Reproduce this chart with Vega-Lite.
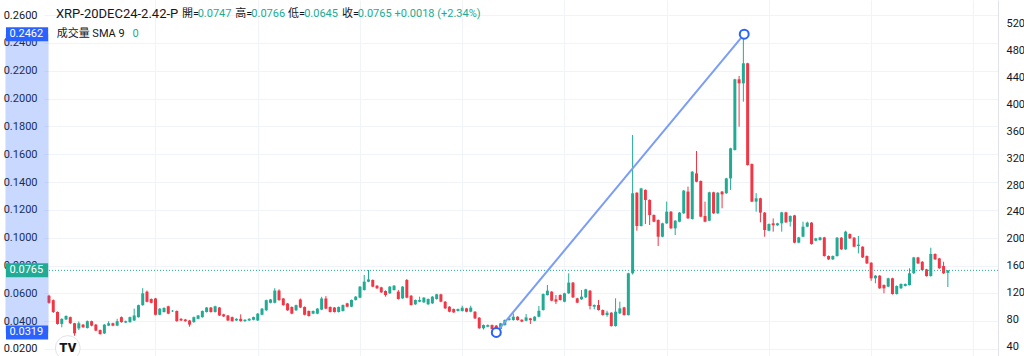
{
"$schema":"https://vega.github.io/schema/vega-lite/v6.json",
"width":954,"height":356,
"autosize":{"type":"none"},
"padding":{"left":44,"right":26,"top":0,"bottom":0},
"background":"#ffffff",
"config":{"view":{"stroke":null},"font":"Roboto, Noto Sans CJK TC, sans-serif"},
"datasets":{
"candles":[
{"i":0,"o":0.0583,"h":0.0590,"l":0.0525,"c":0.0532},
{"i":1,"o":0.0551,"h":0.0556,"l":0.0459,"c":0.0466},
{"i":2,"o":0.0466,"h":0.0470,"l":0.0375,"c":0.0380},
{"i":3,"o":0.0380,"h":0.0420,"l":0.0356,"c":0.0417},
{"i":4,"o":0.0412,"h":0.0442,"l":0.0408,"c":0.0437},
{"i":5,"o":0.0429,"h":0.0433,"l":0.0380,"c":0.0385},
{"i":6,"o":0.0385,"h":0.0388,"l":0.0295,"c":0.0312},
{"i":7,"o":0.0348,"h":0.0397,"l":0.0336,"c":0.0385},
{"i":8,"o":0.0375,"h":0.0380,"l":0.0352,"c":0.0356},
{"i":9,"o":0.0351,"h":0.0405,"l":0.0347,"c":0.0400},
{"i":10,"o":0.0400,"h":0.0404,"l":0.0363,"c":0.0368},
{"i":11,"o":0.0375,"h":0.0380,"l":0.0328,"c":0.0332},
{"i":12,"o":0.0336,"h":0.0340,"l":0.0303,"c":0.0307},
{"i":13,"o":0.0312,"h":0.0379,"l":0.0308,"c":0.0375},
{"i":14,"o":0.0368,"h":0.0400,"l":0.0364,"c":0.0385},
{"i":15,"o":0.0385,"h":0.0389,"l":0.0364,"c":0.0368},
{"i":16,"o":0.0368,"h":0.0417,"l":0.0364,"c":0.0400},
{"i":17,"o":0.0429,"h":0.0434,"l":0.0389,"c":0.0393},
{"i":18,"o":0.0390,"h":0.0404,"l":0.0386,"c":0.0400},
{"i":19,"o":0.0393,"h":0.0433,"l":0.0389,"c":0.0429},
{"i":20,"o":0.0405,"h":0.0490,"l":0.0401,"c":0.0441},
{"i":21,"o":0.0429,"h":0.0519,"l":0.0425,"c":0.0515},
{"i":22,"o":0.0515,"h":0.0637,"l":0.0511,"c":0.0600},
{"i":23,"o":0.0612,"h":0.0620,"l":0.0535,"c":0.0539},
{"i":24,"o":0.0559,"h":0.0563,"l":0.0528,"c":0.0532},
{"i":25,"o":0.0563,"h":0.0567,"l":0.0442,"c":0.0446},
{"i":26,"o":0.0446,"h":0.0494,"l":0.0442,"c":0.0490},
{"i":27,"o":0.0466,"h":0.0500,"l":0.0462,"c":0.0495},
{"i":28,"o":0.0507,"h":0.0511,"l":0.0450,"c":0.0454},
{"i":29,"o":0.0471,"h":0.0480,"l":0.0466,"c":0.0475},
{"i":30,"o":0.0473,"h":0.0477,"l":0.0396,"c":0.0400},
{"i":31,"o":0.0417,"h":0.0421,"l":0.0401,"c":0.0405},
{"i":32,"o":0.0412,"h":0.0416,"l":0.0396,"c":0.0400},
{"i":33,"o":0.0405,"h":0.0409,"l":0.0360,"c":0.0375},
{"i":34,"o":0.0393,"h":0.0433,"l":0.0389,"c":0.0429},
{"i":35,"o":0.0417,"h":0.0445,"l":0.0413,"c":0.0441},
{"i":36,"o":0.0429,"h":0.0477,"l":0.0425,"c":0.0473},
{"i":37,"o":0.0466,"h":0.0502,"l":0.0462,"c":0.0498},
{"i":38,"o":0.0498,"h":0.0502,"l":0.0462,"c":0.0466},
{"i":39,"o":0.0466,"h":0.0511,"l":0.0462,"c":0.0507},
{"i":40,"o":0.0498,"h":0.0502,"l":0.0437,"c":0.0441},
{"i":41,"o":0.0449,"h":0.0453,"l":0.0430,"c":0.0434},
{"i":42,"o":0.0441,"h":0.0445,"l":0.0401,"c":0.0405},
{"i":43,"o":0.0429,"h":0.0433,"l":0.0396,"c":0.0400},
{"i":44,"o":0.0405,"h":0.0421,"l":0.0401,"c":0.0417},
{"i":45,"o":0.0417,"h":0.0449,"l":0.0396,"c":0.0400},
{"i":46,"o":0.0400,"h":0.0414,"l":0.0396,"c":0.0410},
{"i":47,"o":0.0405,"h":0.0421,"l":0.0401,"c":0.0417},
{"i":48,"o":0.0410,"h":0.0433,"l":0.0406,"c":0.0429},
{"i":49,"o":0.0405,"h":0.0458,"l":0.0401,"c":0.0454},
{"i":50,"o":0.0446,"h":0.0494,"l":0.0442,"c":0.0490},
{"i":51,"o":0.0478,"h":0.0555,"l":0.0474,"c":0.0551},
{"i":52,"o":0.0532,"h":0.0560,"l":0.0528,"c":0.0556},
{"i":53,"o":0.0532,"h":0.0637,"l":0.0528,"c":0.0620},
{"i":54,"o":0.0620,"h":0.0629,"l":0.0547,"c":0.0551},
{"i":55,"o":0.0563,"h":0.0567,"l":0.0511,"c":0.0515},
{"i":56,"o":0.0527,"h":0.0531,"l":0.0474,"c":0.0478},
{"i":57,"o":0.0502,"h":0.0506,"l":0.0450,"c":0.0454},
{"i":58,"o":0.0478,"h":0.0519,"l":0.0474,"c":0.0515},
{"i":59,"o":0.0556,"h":0.0563,"l":0.0494,"c":0.0498},
{"i":60,"o":0.0502,"h":0.0506,"l":0.0442,"c":0.0446},
{"i":61,"o":0.0473,"h":0.0477,"l":0.0433,"c":0.0437},
{"i":62,"o":0.0454,"h":0.0477,"l":0.0450,"c":0.0473},
{"i":63,"o":0.0454,"h":0.0494,"l":0.0450,"c":0.0490},
{"i":64,"o":0.0483,"h":0.0575,"l":0.0479,"c":0.0563},
{"i":65,"o":0.0563,"h":0.0580,"l":0.0486,"c":0.0490},
{"i":66,"o":0.0502,"h":0.0506,"l":0.0462,"c":0.0466},
{"i":67,"o":0.0498,"h":0.0502,"l":0.0462,"c":0.0466},
{"i":68,"o":0.0466,"h":0.0506,"l":0.0462,"c":0.0502},
{"i":69,"o":0.0473,"h":0.0520,"l":0.0469,"c":0.0516},
{"i":70,"o":0.0528,"h":0.0532,"l":0.0500,"c":0.0504},
{"i":71,"o":0.0504,"h":0.0556,"l":0.0500,"c":0.0552},
{"i":72,"o":0.0552,"h":0.0580,"l":0.0548,"c":0.0576},
{"i":73,"o":0.0569,"h":0.0652,"l":0.0565,"c":0.0648},
{"i":74,"o":0.0624,"h":0.0732,"l":0.0620,"c":0.0684},
{"i":75,"o":0.0684,"h":0.0768,"l":0.0680,"c":0.0700},
{"i":76,"o":0.0696,"h":0.0700,"l":0.0644,"c":0.0648},
{"i":77,"o":0.0655,"h":0.0659,"l":0.0632,"c":0.0636},
{"i":78,"o":0.0643,"h":0.0647,"l":0.0603,"c":0.0607},
{"i":79,"o":0.0617,"h":0.0621,"l":0.0576,"c":0.0588},
{"i":80,"o":0.0600,"h":0.0652,"l":0.0596,"c":0.0648},
{"i":81,"o":0.0624,"h":0.0659,"l":0.0620,"c":0.0655},
{"i":82,"o":0.0612,"h":0.0624,"l":0.0555,"c":0.0559},
{"i":83,"o":0.0564,"h":0.0652,"l":0.0560,"c":0.0648},
{"i":84,"o":0.0696,"h":0.0703,"l":0.0565,"c":0.0569},
{"i":85,"o":0.0583,"h":0.0587,"l":0.0512,"c":0.0516},
{"i":86,"o":0.0521,"h":0.0556,"l":0.0517,"c":0.0552},
{"i":87,"o":0.0540,"h":0.0576,"l":0.0536,"c":0.0552},
{"i":88,"o":0.0535,"h":0.0573,"l":0.0531,"c":0.0569},
{"i":89,"o":0.0521,"h":0.0563,"l":0.0517,"c":0.0559},
{"i":90,"o":0.0528,"h":0.0580,"l":0.0524,"c":0.0576},
{"i":91,"o":0.0559,"h":0.0597,"l":0.0555,"c":0.0593},
{"i":92,"o":0.0593,"h":0.0597,"l":0.0536,"c":0.0540},
{"i":93,"o":0.0540,"h":0.0544,"l":0.0488,"c":0.0492},
{"i":94,"o":0.0504,"h":0.0508,"l":0.0464,"c":0.0468},
{"i":95,"o":0.0487,"h":0.0491,"l":0.0459,"c":0.0463},
{"i":96,"o":0.0473,"h":0.0491,"l":0.0469,"c":0.0487},
{"i":97,"o":0.0473,"h":0.0511,"l":0.0469,"c":0.0497},
{"i":98,"o":0.0492,"h":0.0496,"l":0.0464,"c":0.0468},
{"i":99,"o":0.0468,"h":0.0511,"l":0.0464,"c":0.0497},
{"i":100,"o":0.0468,"h":0.0472,"l":0.0416,"c":0.0420},
{"i":101,"o":0.0425,"h":0.0429,"l":0.0345,"c":0.0349},
{"i":102,"o":0.0349,"h":0.0376,"l":0.0340,"c":0.0372},
{"i":103,"o":0.0360,"h":0.0376,"l":0.0356,"c":0.0372},
{"i":104,"o":0.0372,"h":0.0376,"l":0.0340,"c":0.0344},
{"i":105,"o":0.0368,"h":0.0372,"l":0.0319,"c":0.0336},
{"i":106,"o":0.0344,"h":0.0388,"l":0.0340,"c":0.0384},
{"i":107,"o":0.0372,"h":0.0412,"l":0.0368,"c":0.0408},
{"i":108,"o":0.0408,"h":0.0424,"l":0.0404,"c":0.0420},
{"i":109,"o":0.0408,"h":0.0456,"l":0.0404,"c":0.0432},
{"i":110,"o":0.0432,"h":0.0436,"l":0.0404,"c":0.0408},
{"i":111,"o":0.0410,"h":0.0414,"l":0.0393,"c":0.0397},
{"i":112,"o":0.0403,"h":0.0451,"l":0.0399,"c":0.0427},
{"i":113,"o":0.0420,"h":0.0424,"l":0.0380,"c":0.0408},
{"i":114,"o":0.0403,"h":0.0436,"l":0.0399,"c":0.0432},
{"i":115,"o":0.0432,"h":0.0509,"l":0.0428,"c":0.0475},
{"i":116,"o":0.0480,"h":0.0599,"l":0.0476,"c":0.0595},
{"i":117,"o":0.0588,"h":0.0660,"l":0.0584,"c":0.0619},
{"i":118,"o":0.0612,"h":0.0616,"l":0.0543,"c":0.0547},
{"i":119,"o":0.0557,"h":0.0588,"l":0.0523,"c":0.0540},
{"i":120,"o":0.0588,"h":0.0592,"l":0.0548,"c":0.0552},
{"i":121,"o":0.0540,"h":0.0604,"l":0.0536,"c":0.0600},
{"i":122,"o":0.0600,"h":0.0744,"l":0.0596,"c":0.0677},
{"i":123,"o":0.0677,"h":0.0681,"l":0.0567,"c":0.0571},
{"i":124,"o":0.0564,"h":0.0568,"l":0.0529,"c":0.0533},
{"i":125,"o":0.0557,"h":0.0624,"l":0.0553,"c":0.0576},
{"i":126,"o":0.0571,"h":0.0633,"l":0.0567,"c":0.0629},
{"i":127,"o":0.0619,"h":0.0623,"l":0.0485,"c":0.0509},
{"i":128,"o":0.0504,"h":0.0520,"l":0.0485,"c":0.0516},
{"i":129,"o":0.0516,"h":0.0552,"l":0.0476,"c":0.0480},
{"i":130,"o":0.0480,"h":0.0484,"l":0.0440,"c":0.0444},
{"i":131,"o":0.0444,"h":0.0475,"l":0.0432,"c":0.0461},
{"i":132,"o":0.0461,"h":0.0465,"l":0.0361,"c":0.0365},
{"i":133,"o":0.0365,"h":0.0564,"l":0.0361,"c":0.0468},
{"i":134,"o":0.0456,"h":0.0540,"l":0.0452,"c":0.0492},
{"i":135,"o":0.0499,"h":0.0503,"l":0.0440,"c":0.0444},
{"i":136,"o":0.0444,"h":0.0748,"l":0.0440,"c":0.0744},
{"i":137,"o":0.0744,"h":0.1738,"l":0.0735,"c":0.1319},
{"i":138,"o":0.1323,"h":0.1327,"l":0.1050,"c":0.1084},
{"i":139,"o":0.1084,"h":0.1358,"l":0.1080,"c":0.1354},
{"i":140,"o":0.1343,"h":0.1347,"l":0.1098,"c":0.1271},
{"i":141,"o":0.1271,"h":0.1275,"l":0.1091,"c":0.1163},
{"i":142,"o":0.1163,"h":0.1167,"l":0.1111,"c":0.1115},
{"i":143,"o":0.1127,"h":0.1131,"l":0.0940,"c":0.1007},
{"i":144,"o":0.1007,"h":0.1107,"l":0.1003,"c":0.1103},
{"i":145,"o":0.1103,"h":0.1259,"l":0.1099,"c":0.1187},
{"i":146,"o":0.1187,"h":0.1191,"l":0.1063,"c":0.1067},
{"i":147,"o":0.1067,"h":0.1126,"l":0.1019,"c":0.1122},
{"i":148,"o":0.1115,"h":0.1184,"l":0.1111,"c":0.1180},
{"i":149,"o":0.1175,"h":0.1342,"l":0.1171,"c":0.1338},
{"i":150,"o":0.1331,"h":0.1367,"l":0.1135,"c":0.1139},
{"i":151,"o":0.1134,"h":0.1478,"l":0.1130,"c":0.1474},
{"i":152,"o":0.1462,"h":0.1623,"l":0.1398,"c":0.1402},
{"i":153,"o":0.1407,"h":0.1411,"l":0.1147,"c":0.1151},
{"i":154,"o":0.1156,"h":0.1259,"l":0.1111,"c":0.1115},
{"i":155,"o":0.1122,"h":0.1330,"l":0.1118,"c":0.1326},
{"i":156,"o":0.1326,"h":0.1330,"l":0.1171,"c":0.1175},
{"i":157,"o":0.1175,"h":0.1327,"l":0.1171,"c":0.1323},
{"i":158,"o":0.1331,"h":0.1335,"l":0.1211,"c":0.1311},
{"i":159,"o":0.1319,"h":0.1430,"l":0.1315,"c":0.1426},
{"i":160,"o":0.1426,"h":0.1646,"l":0.1343,"c":0.1642},
{"i":161,"o":0.1630,"h":0.2142,"l":0.1626,"c":0.2138},
{"i":162,"o":0.2138,"h":0.2162,"l":0.1798,"c":0.2109},
{"i":163,"o":0.2109,"h":0.2462,"l":0.1977,"c":0.2253},
{"i":164,"o":0.2253,"h":0.2257,"l":0.1518,"c":0.1522},
{"i":165,"o":0.1529,"h":0.1533,"l":0.1255,"c":0.1259},
{"i":166,"o":0.1259,"h":0.1320,"l":0.1187,"c":0.1283},
{"i":167,"o":0.1283,"h":0.1287,"l":0.1110,"c":0.1180},
{"i":168,"o":0.1180,"h":0.1184,"l":0.1007,"c":0.1055},
{"i":169,"o":0.1050,"h":0.1102,"l":0.1046,"c":0.1098},
{"i":170,"o":0.1103,"h":0.1138,"l":0.1043,"c":0.1089},
{"i":171,"o":0.1089,"h":0.1107,"l":0.1085,"c":0.1103},
{"i":172,"o":0.1103,"h":0.1186,"l":0.1043,"c":0.1182},
{"i":173,"o":0.1182,"h":0.1186,"l":0.1106,"c":0.1110},
{"i":174,"o":0.1115,"h":0.1160,"l":0.1080,"c":0.1156},
{"i":175,"o":0.1160,"h":0.1164,"l":0.0960,"c":0.0964},
{"i":176,"o":0.0964,"h":0.1006,"l":0.0960,"c":0.1002},
{"i":177,"o":0.1007,"h":0.1115,"l":0.1003,"c":0.1079},
{"i":178,"o":0.1079,"h":0.1115,"l":0.1075,"c":0.1108},
{"i":179,"o":0.1108,"h":0.1112,"l":0.0950,"c":0.0954},
{"i":180,"o":0.0978,"h":0.0999,"l":0.0974,"c":0.0995},
{"i":181,"o":0.0983,"h":0.1006,"l":0.0979,"c":0.1002},
{"i":182,"o":0.1002,"h":0.1006,"l":0.0864,"c":0.0868},
{"i":183,"o":0.0868,"h":0.0872,"l":0.0840,"c":0.0844},
{"i":184,"o":0.0844,"h":0.0872,"l":0.0840,"c":0.0868},
{"i":185,"o":0.0868,"h":0.1004,"l":0.0864,"c":0.1000},
{"i":186,"o":0.1000,"h":0.1004,"l":0.0912,"c":0.0916},
{"i":187,"o":0.0916,"h":0.1050,"l":0.0912,"c":0.1043},
{"i":188,"o":0.1026,"h":0.1030,"l":0.0991,"c":0.0995},
{"i":189,"o":0.1000,"h":0.1004,"l":0.0931,"c":0.0935},
{"i":190,"o":0.0940,"h":0.1012,"l":0.0887,"c":0.0950},
{"i":191,"o":0.0935,"h":0.0939,"l":0.0854,"c":0.0858},
{"i":192,"o":0.0868,"h":0.0872,"l":0.0811,"c":0.0815},
{"i":193,"o":0.0820,"h":0.0824,"l":0.0690,"c":0.0708},
{"i":194,"o":0.0708,"h":0.0731,"l":0.0672,"c":0.0727},
{"i":195,"o":0.0727,"h":0.0731,"l":0.0632,"c":0.0636},
{"i":196,"o":0.0660,"h":0.0664,"l":0.0600,"c":0.0636},
{"i":197,"o":0.0648,"h":0.0712,"l":0.0644,"c":0.0708},
{"i":198,"o":0.0708,"h":0.0712,"l":0.0591,"c":0.0595},
{"i":199,"o":0.0595,"h":0.0657,"l":0.0591,"c":0.0653},
{"i":200,"o":0.0636,"h":0.0671,"l":0.0632,"c":0.0667},
{"i":201,"o":0.0653,"h":0.0671,"l":0.0649,"c":0.0667},
{"i":202,"o":0.0660,"h":0.0780,"l":0.0656,"c":0.0744},
{"i":203,"o":0.0744,"h":0.0862,"l":0.0740,"c":0.0858},
{"i":204,"o":0.0858,"h":0.0862,"l":0.0811,"c":0.0815},
{"i":205,"o":0.0827,"h":0.0831,"l":0.0763,"c":0.0767},
{"i":206,"o":0.0772,"h":0.0776,"l":0.0720,"c":0.0724},
{"i":207,"o":0.0724,"h":0.0928,"l":0.0720,"c":0.0883},
{"i":208,"o":0.0883,"h":0.0887,"l":0.0840,"c":0.0844},
{"i":209,"o":0.0851,"h":0.0855,"l":0.0776,"c":0.0780},
{"i":210,"o":0.0796,"h":0.0827,"l":0.0740,"c":0.0744},
{"i":211,"o":0.0747,"h":0.0766,"l":0.0645,"c":0.0765}
],
"trend":[{"k":105,"p":0.0319},{"k":163.2,"p":0.2462}],
"boxes":[{"p":0.2462,"t":"0.2462","kind":"sel"},{"p":0.0319,"t":"0.0319","kind":"sel"},{"p":0.0765,"t":"0.0765","kind":"last"}],
"one":[{}]
},
"resolve":{"scale":{"y":"independent"},"axis":{"y":"independent"}},
"layer":[
{"layer":[
{"data":{"name":"candles"},"mark":{"type":"rule","strokeWidth":1,"clip":true},
 "encoding":{
  "x":{"field":"i","type":"quantitative","title":null,"scale":{"domain":[0,221.6],"nice":false,"zero":false},
       "axis":{"values":[25,49,73,97,121,145,169,193,217],"tickCount":30,"labels":false,"ticks":false,"domain":false,"grid":true,"gridColor":"#f0f3fa","title":null}},
  "y":{"field":"l","type":"quantitative","title":null,"scale":{"domain":[0.01497,0.27078],"nice":false,"zero":false},
       "axis":{"orient":"left","values":[0.02,0.04,0.06,0.08,0.10,0.12,0.14,0.16,0.18,0.20,0.22,0.24,0.26],"tickCount":20,"format":".4f","labelOverlap":false,"labelBound":false,"grid":true,"gridColor":"#f0f3fa","ticks":false,"domain":false,"labelPadding":7,"labelFontSize":11,"labelColor":"#131722","title":null}},
  "y2":{"field":"h"},
  "color":{"condition":{"test":"datum.c >= datum.o","value":"#22ab94"},"value":"#f23645"}}},
{"data":{"name":"candles"},"mark":{"type":"bar","width":3,"clip":true},
 "encoding":{
  "x":{"field":"i","type":"quantitative","title":null},
  "y":{"field":"o","type":"quantitative","title":null},
  "y2":{"field":"c"},
  "color":{"condition":{"test":"datum.c >= datum.o","value":"#22ab94"},"value":"#f23645"}}},
{"data":{"name":"one"},"mark":{"type":"rect","color":"#2962ff","opacity":0.25},
 "encoding":{"x":{"datum":-10.22},"x2":{"datum":-0.1},"y":{"datum":0.2462},"y2":{"datum":0.0319}}},
{"data":{"name":"one"},"mark":{"type":"rule","color":"#22ab94","strokeDash":[1,2],"strokeWidth":1},
 "encoding":{"y":{"datum":0.0765}}},
{"data":{"name":"trend"},"mark":{"type":"line","color":"#7b9df7","strokeWidth":2},
 "encoding":{"x":{"field":"k","type":"quantitative","title":null},"y":{"field":"p","type":"quantitative","title":null}}},
{"data":{"name":"trend"},"mark":{"type":"point","filled":true,"fill":"#ffffff","stroke":"#2962ff","strokeWidth":2,"size":80,"opacity":1},
 "encoding":{"x":{"field":"k","type":"quantitative","title":null},"y":{"field":"p","type":"quantitative","title":null}}},
{"data":{"name":"one"},"mark":{"type":"text","text":"XRP-20DEC24-2.42-P","align":"left","baseline":"middle","fontSize":13,"color":"#131722"},
 "encoding":{"x":{"datum":1.63},"y":{"datum":0.2604}}},
{"data":{"name":"one"},"mark":{"type":"text","text":"開=","align":"left","baseline":"middle","fontSize":11,"color":"#131722"},
 "encoding":{"x":{"datum":31.2},"y":{"datum":0.2604}}},
{"data":{"name":"one"},"mark":{"type":"text","text":"0.0747","align":"left","baseline":"middle","fontSize":11,"color":"#22ab94"},
 "encoding":{"x":{"datum":34.9},"y":{"datum":0.2604}}},
{"data":{"name":"one"},"mark":{"type":"text","text":"高=","align":"left","baseline":"middle","fontSize":11,"color":"#131722"},
 "encoding":{"x":{"datum":43.7},"y":{"datum":0.2604}}},
{"data":{"name":"one"},"mark":{"type":"text","text":"0.0766","align":"left","baseline":"middle","fontSize":11,"color":"#22ab94"},
 "encoding":{"x":{"datum":47.5},"y":{"datum":0.2604}}},
{"data":{"name":"one"},"mark":{"type":"text","text":"低=","align":"left","baseline":"middle","fontSize":11,"color":"#131722"},
 "encoding":{"x":{"datum":56.1},"y":{"datum":0.2604}}},
{"data":{"name":"one"},"mark":{"type":"text","text":"0.0645","align":"left","baseline":"middle","fontSize":11,"color":"#22ab94"},
 "encoding":{"x":{"datum":59.9},"y":{"datum":0.2604}}},
{"data":{"name":"one"},"mark":{"type":"text","text":"收=","align":"left","baseline":"middle","fontSize":11,"color":"#131722"},
 "encoding":{"x":{"datum":68.8},"y":{"datum":0.2604}}},
{"data":{"name":"one"},"mark":{"type":"text","text":"0.0765","align":"left","baseline":"middle","fontSize":11,"color":"#22ab94"},
 "encoding":{"x":{"datum":72.5},"y":{"datum":0.2604}}},
{"data":{"name":"one"},"mark":{"type":"text","text":"+0.0018 (+2.34%)","align":"left","baseline":"middle","fontSize":11,"color":"#22ab94"},
 "encoding":{"x":{"datum":81.1},"y":{"datum":0.2604}}},
{"data":{"name":"one"},"mark":{"type":"text","text":"成交量 SMA 9","align":"left","baseline":"middle","fontSize":11,"color":"#131722"},
 "encoding":{"x":{"datum":1.79},"y":{"datum":0.2464}}},
{"data":{"name":"one"},"mark":{"type":"text","text":"0","align":"left","baseline":"middle","fontSize":11,"color":"#22ab94"},
 "encoding":{"x":{"datum":19.6},"y":{"datum":0.2464}}},
{"data":{"name":"one"},"mark":{"type":"point","filled":true,"fill":"#ffffff","stroke":"#e0e3eb","strokeWidth":1,"size":616,"opacity":1},
 "encoding":{"x":{"datum":4.41},"y":{"datum":0.0207}}},
{"data":{"name":"one"},"mark":{"type":"text","text":"TV","align":"center","baseline":"middle","fontSize":13,"fontWeight":900,"color":"#131722"},
 "encoding":{"x":{"datum":4.41},"y":{"datum":0.0207}}},
{"data":{"name":"boxes"},"mark":{"type":"rule","strokeWidth":14},
 "encoding":{"x":{"datum":-10.1},"x2":{"datum":-0.2},"y":{"field":"p","type":"quantitative","title":null},
  "color":{"condition":{"test":"datum.kind == 'last'","value":"#22ab94"},"value":"#2962ff"}}},
{"data":{"name":"boxes"},"mark":{"type":"text","align":"left","baseline":"middle","fontSize":11,"color":"#ffffff"},
 "encoding":{"x":{"datum":-9.3},"y":{"field":"p","type":"quantitative","title":null},"text":{"field":"t"}}}
]},
{"data":{"values":[{"v":40},{"v":520}]},"mark":{"type":"point","opacity":0},
 "encoding":{"y":{"field":"v","type":"quantitative","title":null,"scale":{"domain":[26.2,554.6],"nice":false,"zero":false},
  "axis":{"orient":"right","values":[40,80,120,160,200,240,280,320,360,400,440,480,520],"tickCount":20,"labelOverlap":false,"grid":false,"ticks":false,"domain":true,"domainColor":"#e0e3eb","labelPadding":8,"labelFontSize":11,"labelColor":"#131722","title":null}}}}
]
}
